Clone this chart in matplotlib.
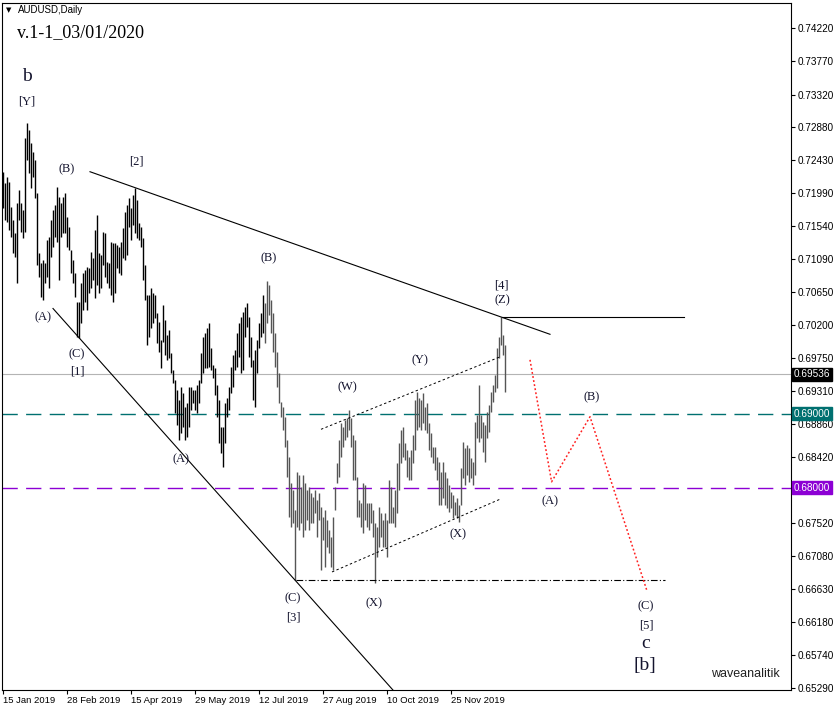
import matplotlib
matplotlib.use("Agg")
import matplotlib.pyplot as plt
import numpy as np

# ---------------- data ----------------
tick_pos = [0, 32, 64, 96, 128, 160, 192, 224]
tick_dates = ["15 Jan 2019", "28 Feb 2019", "15 Apr 2019", "29 May 2019",
              "12 Jul 2019", "27 Aug 2019", "10 Oct 2019", "25 Nov 2019"]

price_ticks = [0.74220, 0.73770, 0.73320, 0.72880, 0.72430, 0.71990, 0.71540,
               0.71090, 0.70650, 0.70200, 0.69750, 0.69310, 0.68860, 0.68420,
               0.67970, 0.67520, 0.67080, 0.66630, 0.66180, 0.65740, 0.65290]
hidden_tick = 0.67970  # sits under the 0.68000 box

# daily highs / lows, one per bar
highs = [
    0.7227, 0.7212, 0.7220, 0.7214, 0.7180, 0.7162, 0.7145, 0.7185, 0.7203, 0.7185, 0.7176, 0.7273,
    0.7293, 0.7284, 0.7266, 0.7254, 0.7243, 0.7199, 0.7118, 0.7104, 0.7108, 0.7104, 0.7135, 0.7139,
    0.7162, 0.7176, 0.7183, 0.7207, 0.7193, 0.7185, 0.7193, 0.7199, 0.7166, 0.7153, 0.7122, 0.7108,
    0.7091, 0.7051, 0.7051, 0.7077, 0.7091, 0.7095, 0.7099, 0.7097, 0.7119, 0.7111, 0.7149, 0.7169,
    0.7118, 0.7115, 0.7146, 0.7145, 0.7105, 0.7104, 0.7133, 0.7131, 0.7131, 0.7128, 0.7126, 0.7133,
    0.7151, 0.7173, 0.7183, 0.7192, 0.7179, 0.7196, 0.7206, 0.7189, 0.7158, 0.7153, 0.7138, 0.7101,
    0.7061, 0.7061, 0.7070, 0.7063, 0.7061, 0.7036, 0.7024, 0.7000, 0.7047, 0.7027, 0.7007, 0.7013,
    0.6982, 0.6959, 0.6946, 0.6932, 0.6919, 0.6936, 0.6928, 0.6909, 0.6915, 0.6936, 0.6936, 0.6932,
    0.6932, 0.6939, 0.6946, 0.6982, 0.7004, 0.7009, 0.7016, 0.7023, 0.6989, 0.6966, 0.6962, 0.6939,
    0.6919, 0.6882, 0.6882, 0.6915, 0.6921, 0.6936, 0.6963, 0.6980, 0.6986, 0.7009, 0.7023, 0.7031,
    0.7038, 0.7045, 0.7050, 0.7031, 0.7004, 0.6973, 0.6986, 0.7000, 0.7023, 0.7036, 0.7061, 0.7050,
    0.7080, 0.7074, 0.7054, 0.7036, 0.7009, 0.6984, 0.6955, 0.6916, 0.6909, 0.6896, 0.6865, 0.6842,
    0.6806, 0.6797, 0.6770, 0.6821, 0.6817, 0.6801, 0.6817, 0.6806, 0.6797, 0.6801, 0.6793, 0.6787,
    0.6797, 0.6783, 0.6793, 0.6774, 0.6760, 0.6770, 0.6756, 0.6743, 0.6733, 0.6760, 0.6801, 0.6833,
    0.6865, 0.6888, 0.6882, 0.6892, 0.6894, 0.6905, 0.6894, 0.6871, 0.6865, 0.6815, 0.6783, 0.6779,
    0.6806, 0.6804, 0.6779, 0.6779, 0.6779, 0.6770, 0.6752, 0.6747, 0.6774, 0.6766, 0.6756, 0.6766,
    0.6756, 0.6811, 0.6801, 0.6774, 0.6797, 0.6833, 0.6861, 0.6878, 0.6882, 0.6861, 0.6851, 0.6842,
    0.6851, 0.6871, 0.6919, 0.6930, 0.6921, 0.6919, 0.6928, 0.6909, 0.6915, 0.6888, 0.6874, 0.6855,
    0.6855, 0.6842, 0.6835, 0.6821, 0.6835, 0.6821, 0.6813, 0.6804, 0.6794, 0.6790, 0.6781, 0.6786,
    0.6777, 0.6827, 0.6862, 0.6854, 0.6858, 0.6854, 0.6840, 0.6835, 0.6889, 0.6898, 0.6939, 0.6898,
    0.6889, 0.6885, 0.6903, 0.6912, 0.6930, 0.6939, 0.6953, 0.6989, 0.7004, 0.7031, 0.7007, 0.6993,
]
lows = [
    0.7179, 0.7162, 0.7160, 0.7149, 0.7139, 0.7118, 0.7112, 0.7077, 0.7162, 0.7146, 0.7138, 0.7146,
    0.7243, 0.7226, 0.7206, 0.7220, 0.7192, 0.7101, 0.7085, 0.7058, 0.7054, 0.7077, 0.7085, 0.7070,
    0.7112, 0.7126, 0.7139, 0.7133, 0.7081, 0.7139, 0.7145, 0.7145, 0.7126, 0.7122, 0.7091, 0.7077,
    0.7058, 0.7004, 0.7003, 0.7023, 0.7040, 0.7051, 0.7040, 0.7063, 0.7070, 0.7081, 0.7057, 0.7074,
    0.7063, 0.7070, 0.7101, 0.7085, 0.7077, 0.7070, 0.7061, 0.7051, 0.7063, 0.7097, 0.7091, 0.7088,
    0.7111, 0.7108, 0.7115, 0.7153, 0.7135, 0.7155, 0.7145, 0.7138, 0.7135, 0.7126, 0.7081, 0.7054,
    0.6993, 0.7004, 0.7016, 0.7023, 0.7030, 0.6996, 0.6984, 0.6962, 0.6997, 0.6980, 0.6973, 0.6976,
    0.6955, 0.6942, 0.6901, 0.6885, 0.6865, 0.6874, 0.6882, 0.6865, 0.6869, 0.6882, 0.6905, 0.6915,
    0.6905, 0.6901, 0.6915, 0.6942, 0.6955, 0.6962, 0.6962, 0.6963, 0.6959, 0.6948, 0.6925, 0.6896,
    0.6861, 0.6847, 0.6828, 0.6861, 0.6896, 0.6905, 0.6928, 0.6936, 0.6959, 0.6963, 0.6977, 0.6955,
    0.6959, 0.7004, 0.7017, 0.6977, 0.6963, 0.6919, 0.6909, 0.6955, 0.6989, 0.7004, 0.7009, 0.6996,
    0.7023, 0.7034, 0.7009, 0.6984, 0.6963, 0.6936, 0.6915, 0.6896, 0.6878, 0.6855, 0.6815, 0.6760,
    0.6747, 0.6752, 0.6675, 0.6747, 0.6743, 0.6752, 0.6733, 0.6743, 0.6756, 0.6743, 0.6752, 0.6752,
    0.6766, 0.6733, 0.6756, 0.6689, 0.6729, 0.6693, 0.6720, 0.6712, 0.6693, 0.6689, 0.6770, 0.6806,
    0.6815, 0.6842, 0.6855, 0.6865, 0.6869, 0.6878, 0.6855, 0.6811, 0.6811, 0.6760, 0.6760, 0.6747,
    0.6739, 0.6756, 0.6747, 0.6743, 0.6752, 0.6733, 0.6671, 0.6706, 0.6720, 0.6733, 0.6720, 0.6720,
    0.6706, 0.6752, 0.6752, 0.6752, 0.6747, 0.6766, 0.6797, 0.6833, 0.6842, 0.6838, 0.6815, 0.6811,
    0.6811, 0.6833, 0.6851, 0.6878, 0.6882, 0.6878, 0.6888, 0.6878, 0.6874, 0.6851, 0.6842, 0.6833,
    0.6824, 0.6811, 0.6777, 0.6777, 0.6786, 0.6777, 0.6773, 0.6767, 0.6773, 0.6759, 0.6763, 0.6759,
    0.6754, 0.6777, 0.6813, 0.6804, 0.6817, 0.6808, 0.6813, 0.6804, 0.6817, 0.6867, 0.6862, 0.6867,
    0.6848, 0.6835, 0.6867, 0.6875, 0.6903, 0.6916, 0.6930, 0.6935, 0.6976, 0.6993, 0.6980, 0.6930,
]

last_price = 0.69536
level_1 = 0.69000
level_2 = 0.68000

# channel (dotted) end points: bar index, price
chan_up_x = [159, 248.5]
chan_up_y = [0.6879, 0.6977]
chan_lo_x = [164.5, 249]
chan_lo_y = [0.6686, 0.6785]

# forecast path (red dotted)
fc_x = [263.5, 274.3, 293.5, 321.8]
fc_y = [0.6973, 0.6808, 0.6896, 0.6662]

# wave labels: text, bar index, price, size
waves = [
    ("b", 12, 0.7356, 14), ("[Y]", 12, 0.7323, 9), ("(B)", 32, 0.7231, 9),
    ("[2]", 66.5, 0.7242, 9), ("(A)", 20, 0.7031, 9), ("(C)", 37, 0.6980, 9),
    ("[1]", 37, 0.6957, 9), ("(B)", 133, 0.7110, 9), ("(A)", 89, 0.6839, 9),
    ("(W)", 172, 0.6936, 9), ("(Y)", 208.5, 0.6973, 9), ("[4]", 249, 0.7074, 9),
    ("(Z)", 249.5, 0.7053, 9), ("(X)", 227.5, 0.6737, 9), ("(X)", 185.5, 0.6643, 9),
    ("(C)", 145, 0.6651, 9), ("[3]", 145, 0.6624, 9), ("(B)", 294.5, 0.6923, 9),
    ("(A)", 273.5, 0.6782, 9), ("(C)", 321.5, 0.6640, 9), ("[5]", 321.5, 0.6613, 9),
    ("c", 321.5, 0.6589, 14), ("[b]", 321, 0.6560, 14),
]

# ---------------- figure ----------------
W, H = 837, 712
fig = plt.figure(figsize=(W / 100, H / 100), dpi=100)
ax = fig.add_axes([2 / W, 1 - 690 / H, 789 / W, 687 / H])
ax.set_xlim(-0.5, 394)
ax.set_ylim(0.65263, 0.74558)

idx = np.arange(len(highs))
bar_cols = ["black" if i < 131 else "#555555" for i in idx]
ax.vlines(idx, lows, highs, colors=bar_cols, linewidth=1.0, zorder=3)

# horizontal levels
ax.axhline(last_price, color="#b4b4b4", linewidth=0.8, zorder=2)
ax.axhline(level_1, color="#007070", linewidth=1.0, dashes=(11, 6), zorder=2)
ax.axhline(level_2, color="#8c00d4", linewidth=1.0, dashes=(11, 6), zorder=2)

# upper trend line through [2] and [4] highs
i2, i4 = 66, 249
k = (highs[i4] - highs[i2]) / (i4 - i2)
xs = np.array([43.5, 273.5])
ax.plot(xs, highs[i2] + k * (xs - i2), color="black", linewidth=0.8, zorder=4)
ax.plot([i4 + 0.5, 340.5], [highs[i4], highs[i4]], color="black", linewidth=0.8, zorder=4)

# lower trend line through [1] and [3] lows
j1, j3 = 38, 146
k2 = (lows[j3] - lows[j1]) / (j3 - j1)
xs = np.array([25, 205])
ax.plot(xs, lows[j1] + k2 * (xs - j1), color="black", linewidth=0.8, zorder=4)

# dash-dot line from the [3] low
ax.plot([j3 + 0.5, 331], [lows[j3], lows[j3]], color="black", linewidth=0.8,
        dashes=(6, 2, 1, 2), zorder=4)

# channel
ax.plot(chan_up_x, chan_up_y, color="black", linewidth=0.7, dashes=(2.5, 2.5), zorder=4)
ax.plot(chan_lo_x, chan_lo_y, color="black", linewidth=0.7, dashes=(2.5, 2.5), zorder=4)

# forecast
ax.plot(fc_x, fc_y, color="#ff2020", linewidth=1.1, dashes=(1.2, 1.5), zorder=4)

for txt, xi, yp, fs in waves:
    ax.text(xi, yp, txt, ha="center", va="center", fontsize=fs,
            family="Liberation Serif", color="#14142e", zorder=5)

# axes look
for s in ax.spines.values():
    s.set_linewidth(0.8)
ax.yaxis.tick_right()
ax.set_yticks(price_ticks)
ax.set_yticklabels(["" if v == hidden_tick else "%.5f" % v for v in price_ticks],
                   family="Liberation Sans", fontsize=7.2)
ax.set_xticks(tick_pos)
ax.set_xticklabels(tick_dates, family="Liberation Sans", fontsize=6.8, ha="left")
ax.tick_params(axis="both", direction="out", length=3, width=0.8, pad=1.5)

# price boxes on the right axis
for val, col in [(last_price, "black"), (level_1, "#007070"), (level_2, "#8c00d4")]:
    ax.text(1.0035, val, "%.5f" % val, transform=ax.get_yaxis_transform(),
            ha="left", va="center", fontsize=7.2, family="Liberation Sans", color="white",
            bbox=dict(boxstyle="square,pad=0.15", facecolor=col, edgecolor=col),
            clip_on=False, zorder=10)

# header texts
fig.text(6 / W, 1 - 10 / H, "\u25bc", fontsize=5, family="DejaVu Sans", va="center")
fig.text(18 / W, 1 - 10 / H, "AUDUSD,Daily", fontsize=7, family="Liberation Sans", va="center")
fig.text(17 / W, 1 - 33 / H, "v.1-1_03/01/2020", fontsize=13, family="Liberation Serif", va="center")
fig.text(780 / W, 1 - 674 / H, "waveanalitik", fontsize=9, family="Liberation Sans",
         ha="right", va="center", color="#202020")

plt.savefig("out.png", dpi=100)
